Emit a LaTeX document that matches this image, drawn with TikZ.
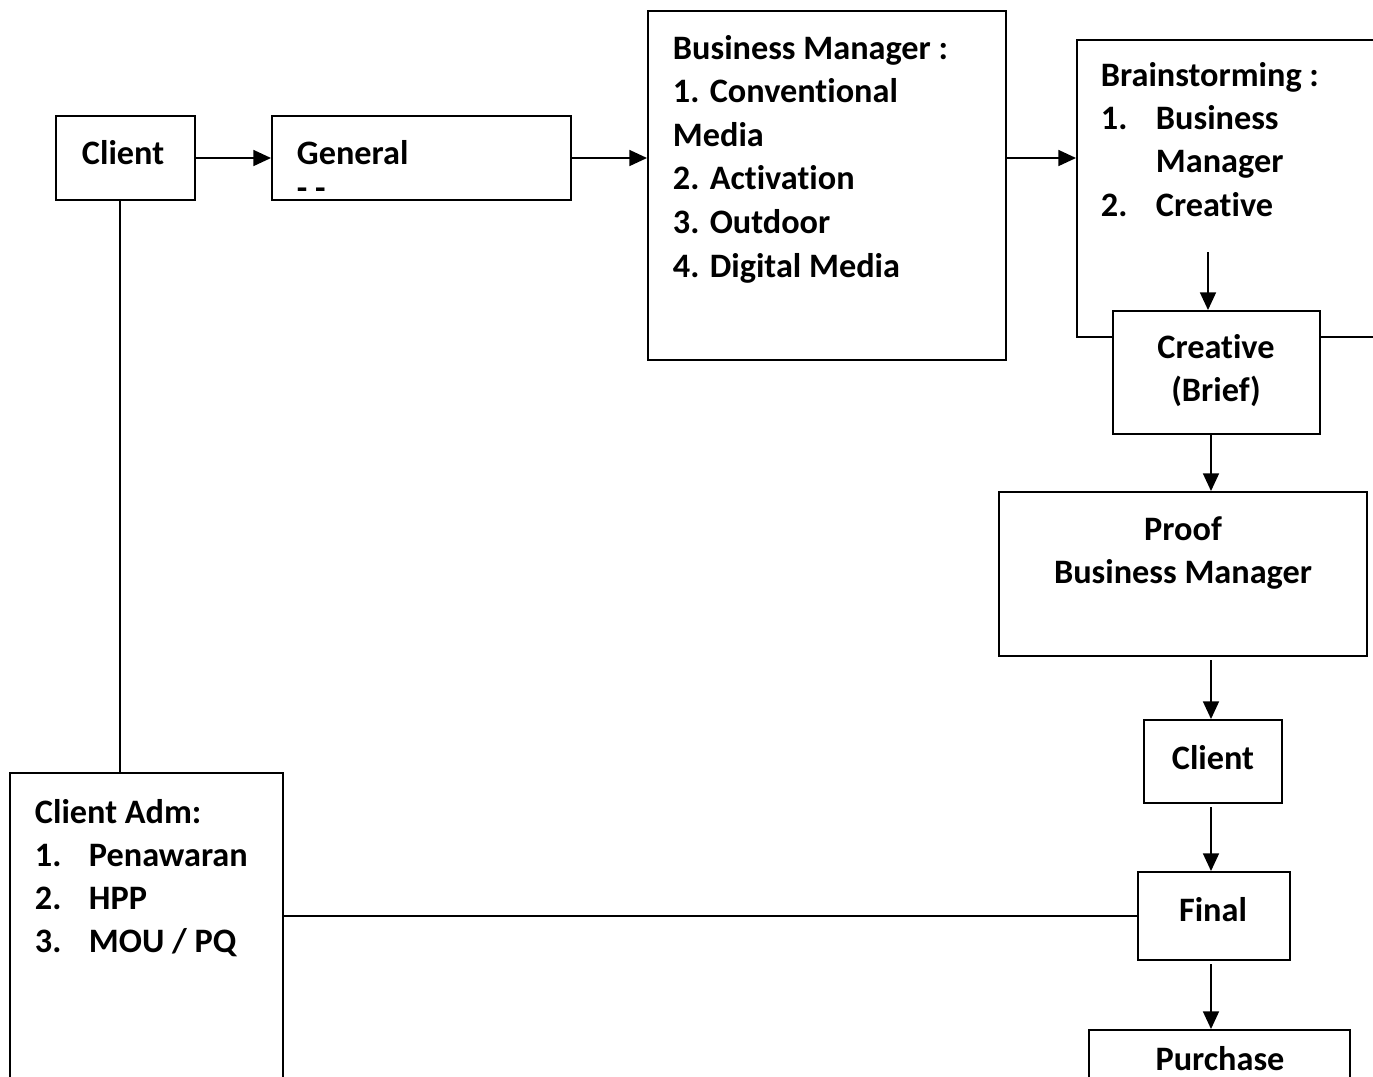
\documentclass[tikz,border=0pt]{standalone}
\usepackage{fontspec}
\setmainfont{Carlito}[Ligatures=NoCommon]
\usetikzlibrary{arrows.meta,fit}

\begin{document}
\begin{tikzpicture}[x=0.02cm, y=-0.02cm, line width=1.1pt,
		box/.style={draw, inner sep=0pt, fill=white},
		txt/.style={inner sep=0pt, anchor=base west, font=\fontsize{19.5}{25}\selectfont\bfseries},
		ctxt/.style={txt, anchor=base},
		>={Triangle[length=10pt, width=9pt]}]
			\clip (0,0) rectangle (1373,1076);
			
			% boxes
			\node[box, fit={(56,116) (195,200)}] (client) {};
			\node[box, fit={(272,116) (571,200)}] (general) {};
			\node[box, fit={(648,11) (1006,360)}] (bm) {};
			\node[box, fit={(1077,40) (1400,337)}] (brain) {};
			\node[box, fit={(1113,311) (1320,434)}] (creative) {};
			\node[box, fit={(999,492) (1367,656)}] (proof) {};
			\node[box, fit={(1144,720) (1282,803)}] (client2) {};
			\node[box, fit={(1138,872) (1290,960)}] (final) {};
			\node[box, fit={(1089,1030) (1350,1120)}] (purchase) {};
			\node[box, fit={(10,773) (283,1120)}] (adm) {};
			
			% texts
			\node[txt] (clienttxt) at (81,164) {Client};
			\node[txt] (generaltxt) at (296,164) {General};
			\node[txt] (generalcut) at (296,199) {- -};
			\foreach \t [count=\i from 0] in {Business Manager :, 1. Conventional, Media, 2. Activation, 3. Outdoor, 4. Digital Media}
			\node[txt] (bm-\i) at (672,{59+43.6*\i}) {\t};
			\foreach \t [count=\i from 0] in {Brainstorming :, \makebox[1.1cm][l]{1.}Business, \hspace{1.1cm}Manager, \makebox[1.1cm][l]{2.}Creative}
			\node[txt] (brain-\i) at (1100,{86+43.4*\i}) {\t};
			\node[ctxt] (creative-1) at (1216,358) {Creative};
			\node[ctxt] (creative-2) at (1216,401) {(Brief)};
			\node[ctxt] (proof-1) at (1183,540) {Proof};
			\node[ctxt] (proof-2) at (1183,583) {Business Manager};
			\node[ctxt] (client2txt) at (1213,769) {Client};
			\node[ctxt] (finaltxt) at (1213,921) {Final};
			\node[ctxt, text depth=0pt] (purchasetxt) at (1220,1070) {Purchase};
			\foreach \t [count=\i from 0] in {Client Adm:, \makebox[1.08cm][l]{1.}Penawaran, \makebox[1.08cm][l]{2.}HPP, \makebox[1.08cm][l]{3.}MOU / PQ}
			\node[txt] (adm-\i) at (34,{823+43.2*\i}) {\t};
			
			% connectors
			\coordinate (spine) at (1211,0);
			\coordinate (bsarrow) at (1208,252);
			\coordinate (link) at (120,0);
			\draw[->] (client.east) -- (general.west);
			\draw[->] (general.east) -- (general.east -| bm.west);
			\draw[->] (bm.east |- general.east) -- (brain.west |- general.east);
			\draw[->] (bsarrow) -- (bsarrow |- creative.north);
			\draw[->] (creative.south -| spine) -- (proof.north -| spine);
			\draw[->] ([yshift=-2pt]proof.south -| spine) -- (client2.north -| spine);
			\draw[->] ([yshift=-2pt]client2.south -| spine) -- (final.north -| spine);
			\draw[->] ([yshift=-2pt]final.south -| spine) -- (purchase.north -| spine);
			\draw (client.south -| link) -- (adm.north -| link);
			\draw (final.west) -- (final.west -| adm.east);
\end{tikzpicture}
\end{document}
